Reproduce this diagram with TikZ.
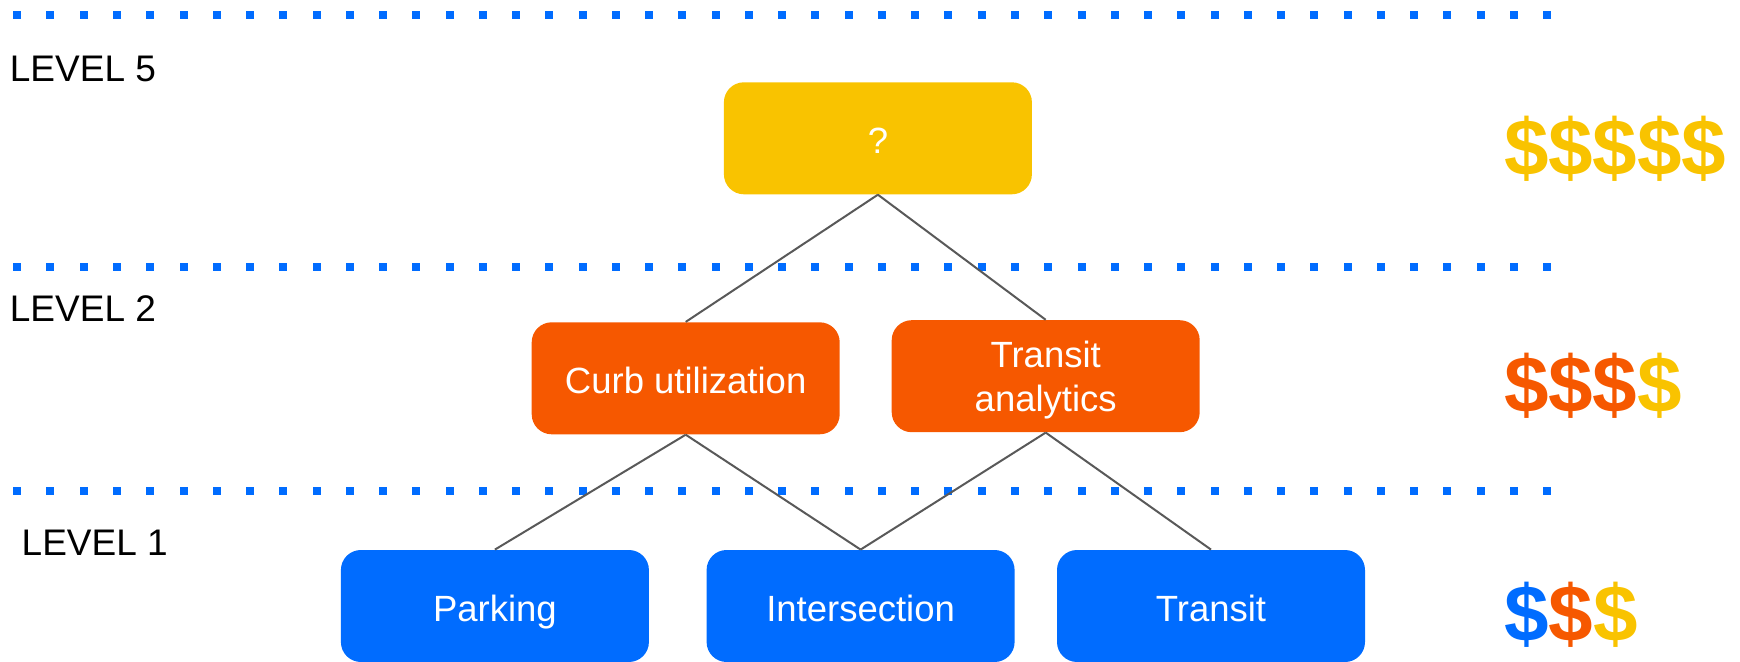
\documentclass[tikz,border=0pt]{standalone}
\usepackage{fontspec}
\setmainfont{Liberation Sans}
\begin{document}
\begin{tikzpicture}[x=0.5pt,y=-0.5pt]
\definecolor{cyel}{HTML}{F9C300}
\definecolor{corg}{HTML}{F65800}
\definecolor{cblu}{HTML}{006CFF}
\definecolor{clink}{HTML}{595959}
\tikzset{
 box/.style={rectangle, rounded corners=10pt, minimum width=154pt, minimum height=56pt, inner sep=0pt, text=white, font=\fontsize{18.25}{22}\selectfont, text height=15pt, text depth=0pt, align=center},
 link/.style={draw=clink, line width=1pt},
 lvl/.style={anchor=base west, inner sep=0pt, font=\fontsize{18.5}{22}\selectfont},
 money/.style={anchor=base west, inner sep=0pt, font=\fontsize{40}{48}\selectfont\bfseries}
}
\useasboundingbox (0,0) rectangle (1740,662);
\foreach \yy in {15,266.7,490.7}{
  \foreach \i in {0,...,46}{
    \fill[cblu] ({17.2+33.26*\i-4},{\yy-4}) rectangle ++(8,8);
  }
}
\node[box, fill=cyel] (top) at (877.9,138.3) {?};
\node[box, fill=corg] (curb) at (685.7,378.3) {Curb utilization};
\node[box, fill=corg, text height=35.5pt] (ta) at (1045.7,376.2) {Transit\\analytics};
\node[box, fill=cblu] (park) at (494.9,606) {Parking};
\node[box, fill=cblu] (inter) at (860.6,606) {Intersection};
\node[box, fill=cblu] (tran) at (1211,606) {Transit};
\draw[link] (top.south) -- (curb.north);
\draw[link] (top.south) -- (ta.north);
\draw[link] (curb.south) -- (park.north);
\draw[link] (curb.south) -- (inter.north);
\draw[link] (ta.south) -- (inter.north);
\draw[link] (ta.south) -- (tran.north);
\node[lvl] (l5) at (9.5,81.7) {LEVEL 5};
\node[lvl] (l2) at (9.5,321.7) {LEVEL 2};
\node[lvl] (l1) at (21.3,555) {LEVEL 1};
\node[money, text=cyel] (m5) at (1503.6,176) {\$\$\$\$\$};
\node[money] (m2) at (1503.6,413) {\textcolor{corg}{\$\$\$}\textcolor{cyel}{\$}};
\node[money] (m1) at (1503.6,641) {\textcolor{cblu}{\$}\textcolor{corg}{\$}\textcolor{cyel}{\$}};
\end{tikzpicture}
\end{document}
